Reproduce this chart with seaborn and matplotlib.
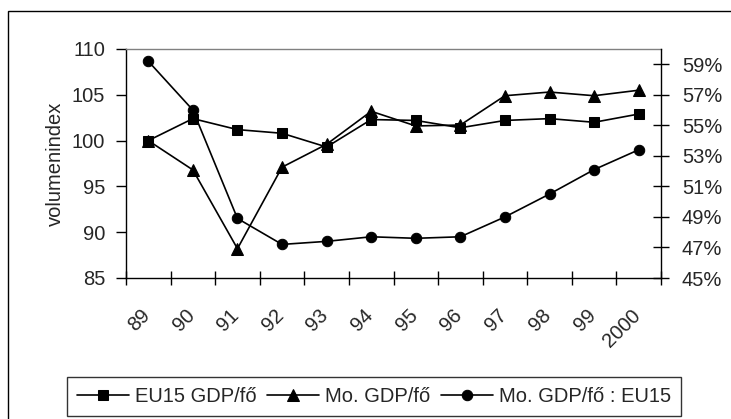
import numpy as np
import pandas as pd
import matplotlib
matplotlib.use("Agg")
import matplotlib.pyplot as plt
import matplotlib.patches as mpatches
from matplotlib.transforms import ScaledTranslation
from matplotlib.ticker import FixedLocator, FuncFormatter
import seaborn as sns

# ---- data ----
years = ["89", "90", "91", "92", "93", "94", "95", "96", "97", "98", "99", "2000"]
eu15_gdp = [100.0, 102.4, 101.2, 100.8, 99.3, 102.3, 102.2, 101.4, 102.2, 102.4, 102.0, 102.9]
hu_gdp = [100.0, 96.8, 88.2, 97.1, 99.6, 103.2, 101.6, 101.7, 104.9, 105.3, 104.9, 105.5]
hu_eu_ratio = [59.2, 56.0, 48.9, 47.2, 47.4, 47.7, 47.6, 47.7, 49.0, 50.5, 52.1, 53.4]
labels = ["EU15 GDP/fő", "Mo. GDP/fő", "Mo. GDP/fő : EU15"]
left_ticks = [85, 90, 95, 100, 105, 110]
right_ticks = [45, 47, 49, 51, 53, 55, 57, 59]

sns.set_style("white")
plt.rcParams['font.family'] = ['Liberation Sans', 'DejaVu Sans']
FS = 14.5

W, H = 731, 419
fig = plt.figure(figsize=(W / 100, H / 100), dpi=100)
fig.patch.set_facecolor("white")

# outer chart frame
frame = mpatches.Rectangle((8 / W, -0.05), 1.1, 1 - 11 / H + 0.05, transform=fig.transFigure,
                           fill=False, edgecolor="black", linewidth=1.0, clip_on=False)
fig.patches.append(frame)

ax = fig.add_axes([126 / W, 1 - 278 / H, (661 - 126) / W, (278 - 49) / H])
ax2 = ax.twinx()

pos = np.arange(len(years))
df = pd.DataFrame({"pos": pos, "eu": eu15_gdp, "hu": hu_gdp, "ratio": hu_eu_ratio})

lw = 1.2
sns.lineplot(data=df, x="pos", y="eu", ax=ax, color="black", marker="s", markersize=7.5,
             markeredgecolor="black", linewidth=lw, label=labels[0], legend=False)
sns.lineplot(data=df, x="pos", y="hu", ax=ax, color="black", marker="^", markersize=9,
             markeredgecolor="black", linewidth=lw, label=labels[1], legend=False)
sns.lineplot(data=df, x="pos", y="ratio", ax=ax2, color="black", marker="o", markersize=7.5,
             markeredgecolor="black", linewidth=lw, label=labels[2], legend=False)

ax.set_xlim(-0.5, len(years) - 0.5)
ax.set_ylim(85, 110)
ax2.set_ylim(45, 60)

ax.set_xlabel("")
ax.set_ylabel("volumenindex", fontsize=FS)
ax.yaxis.set_label_coords(-0.115, 0.5)
ax2.set_ylabel("")

# left axis
ax.yaxis.set_major_locator(FixedLocator(left_ticks))
ax.tick_params(axis="y", which="major", direction="out", length=7, width=1, color="black",
               labelsize=FS, pad=8, left=True)
# right axis
ax2.yaxis.set_major_locator(FixedLocator(right_ticks))
ax2.yaxis.set_major_formatter(FuncFormatter(lambda v, p: f"{int(round(v))}%"))
ax2.tick_params(axis="y", which="major", direction="inout", length=12, width=1, color="black",
                labelsize=FS, pad=9, right=True)

# x axis: category boundaries as major ticks, labels at centers
ax.xaxis.set_major_locator(FixedLocator(np.arange(len(years) + 1) - 0.5))
ax.xaxis.set_major_formatter(FuncFormatter(lambda v, p: ""))
ax.xaxis.set_minor_locator(FixedLocator(pos))
ax.set_xticks(pos, minor=True)
ax.set_xticklabels(years, minor=True, rotation=45, ha="right", va="top", rotation_mode="anchor",
                   fontsize=FS)
ax.tick_params(axis="x", which="major", direction="inout", length=10, width=1, color="black",
               bottom=True)
ax.tick_params(axis="x", which="minor", length=0, pad=20)
offset = ScaledTranslation(-8 / 100, 0, fig.dpi_scale_trans)
for lab in ax.get_xticklabels(minor=True):
    lab.set_transform(lab.get_transform() + offset)

for s in ["left", "bottom"]:
    ax.spines[s].set_color("black")
    ax.spines[s].set_linewidth(1)
ax.spines["top"].set_color("#808080")
ax.spines["top"].set_linewidth(1)
ax.spines["right"].set_visible(False)
for s in ["left", "top", "bottom"]:
    ax2.spines[s].set_visible(False)
ax2.spines["right"].set_color("black")
ax2.spines["right"].set_linewidth(1)
ax2.spines["right"].set_visible(True)

handles = ax.get_lines()[:2] + ax2.get_lines()[:1]
leg = fig.legend(handles, labels, loc="center", bbox_to_anchor=((67 + 681) / 2 / W, 1 - (376 + 417) / 2 / H),
                 ncol=3, fontsize=FS, frameon=True, fancybox=False, edgecolor="black",
                 handlelength=2.6, handletextpad=0.3, columnspacing=0.5, borderpad=0.5,
                 borderaxespad=0)
leg.get_frame().set_linewidth(1)

fig.savefig("out.png", dpi=100, facecolor="white")
